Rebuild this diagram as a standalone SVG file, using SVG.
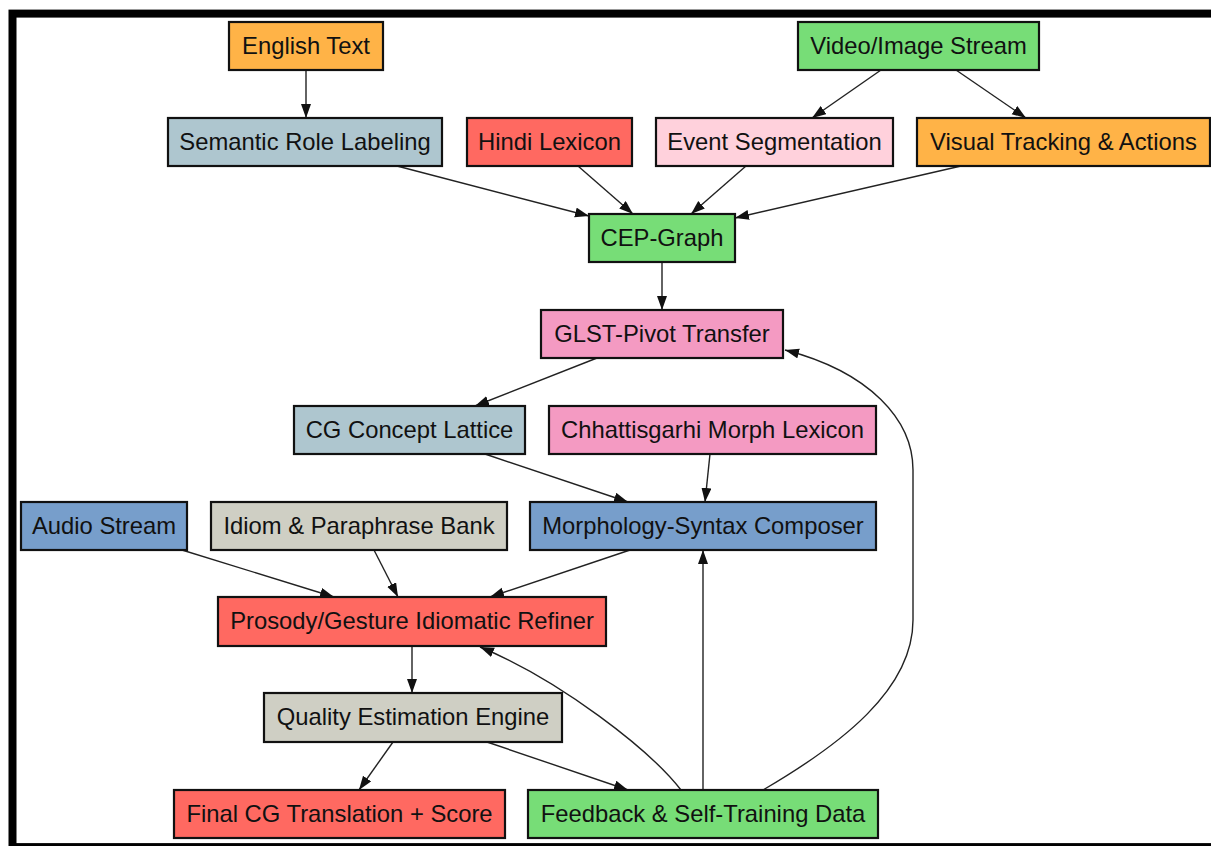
<svg xmlns="http://www.w3.org/2000/svg" width="1211" height="846" viewBox="0 0 1211 846">
<defs>
<marker id="arr" markerUnits="userSpaceOnUse" markerWidth="15" markerHeight="11" refX="14" refY="5" orient="auto">
<path d="M0,0 L14,5 L0,10 z" fill="#111"/>
</marker>
<style>
.n rect{stroke:#111;stroke-width:2.2}
.n text{font-family:"Liberation Sans",Arial,sans-serif;font-size:23.8px;fill:#111;text-anchor:middle}
.orange{fill:#ffb347}.lblue{fill:#aec6cf}.red{fill:#ff6961}.lpink{fill:#ffd1dc}
.green{fill:#77dd77}.pink{fill:#f49ac2}.blue{fill:#779ecb}.grey{fill:#cfcfc4}
#edges path{fill:none;stroke:#222;stroke-width:1.4;marker-end:url(#arr)}
</style>
</defs>
<rect x="0" y="0" width="1211" height="846" fill="#fff"/>
<rect x="12.5" y="13.6" width="1300" height="833.5" fill="#fff" stroke="#000" stroke-width="8"/>
<g id="edges">
<path d="M306,70 L306,118"/>
<path d="M881,70 L812,118"/>
<path d="M956,70 L1026,118"/>
<path d="M397,166 L589,216"/>
<path d="M578,166 L633,214"/>
<path d="M746,166 L691,214"/>
<path d="M961,166 L735,218"/>
<path d="M662,262 L662,310"/>
<path d="M597,358 L475,406"/>
<path d="M485,454 L628,502"/>
<path d="M710,454 L705,502"/>
<path d="M630,550 L490,597"/>
<path d="M182,550 L334,597"/>
<path d="M374,550 L398,597"/>
<path d="M412,646 L412,693"/>
<path d="M393,742 L359,790"/>
<path d="M487,742 L628,790"/>
<path d="M681,790 C650,750 560,680 480,647"/>
<path d="M703,790 L703,550"/>
<path d="M763,790 C840,745 913,690 913,620 L913,470 C913,420 870,372 785,350"/>
</g>
<g id="english" class="n"><rect class="orange" x="229" y="22" width="154" height="48"/><text x="306" y="54">English Text</text></g>
<g id="video" class="n"><rect class="green" x="798" y="22" width="241" height="48"/><text x="918.5" y="54">Video/Image Stream</text></g>
<g id="srl" class="n"><rect class="lblue" x="168" y="118" width="274" height="48"/><text x="305" y="150">Semantic Role Labeling</text></g>
<g id="hindi" class="n"><rect class="red" x="467" y="118" width="165" height="48"/><text x="549.5" y="150">Hindi Lexicon</text></g>
<g id="event" class="n"><rect class="lpink" x="656" y="118" width="237" height="48"/><text x="774.5" y="150">Event Segmentation</text></g>
<g id="visual" class="n"><rect class="orange" x="917" y="118" width="293" height="48"/><text x="1063.5" y="150">Visual Tracking &amp; Actions</text></g>
<g id="cep" class="n"><rect class="green" x="589" y="214" width="146" height="48"/><text x="662" y="246">CEP-Graph</text></g>
<g id="glst" class="n"><rect class="pink" x="541" y="310" width="242" height="48"/><text x="662" y="342">GLST-Pivot Transfer</text></g>
<g id="cgc" class="n"><rect class="lblue" x="294" y="406" width="231" height="48"/><text x="409.5" y="438">CG Concept Lattice</text></g>
<g id="chh" class="n"><rect class="pink" x="549" y="406" width="327" height="48"/><text x="712.5" y="438">Chhattisgarhi Morph Lexicon</text></g>
<g id="audio" class="n"><rect class="blue" x="21" y="502" width="166" height="48"/><text x="104" y="534">Audio Stream</text></g>
<g id="idiom" class="n"><rect class="grey" x="211" y="502" width="296" height="48"/><text x="359" y="534">Idiom &amp; Paraphrase Bank</text></g>
<g id="morph" class="n"><rect class="blue" x="530" y="502" width="346" height="48"/><text x="703" y="534">Morphology-Syntax Composer</text></g>
<g id="prosody" class="n"><rect class="red" x="218" y="597" width="388" height="49"/><text x="412" y="629">Prosody/Gesture Idiomatic Refiner</text></g>
<g id="quality" class="n"><rect class="grey" x="264" y="693" width="298" height="49"/><text x="413" y="725">Quality Estimation Engine</text></g>
<g id="final" class="n"><rect class="red" x="174" y="790" width="331" height="48"/><text x="339.5" y="822">Final CG Translation + Score</text></g>
<g id="feedback" class="n"><rect class="green" x="528" y="790" width="350" height="48"/><text x="703" y="822">Feedback &amp; Self-Training Data</text></g>
</svg>
